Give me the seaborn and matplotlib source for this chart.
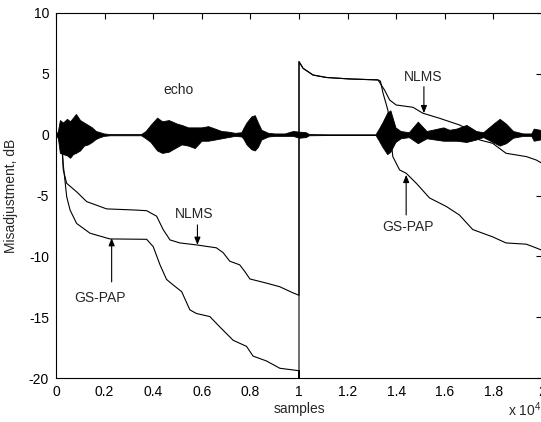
import seaborn as sns
import matplotlib.pyplot as plt
import pandas as pd
import numpy as np
from matplotlib.ticker import FuncFormatter

# x in units of 10^4 samples, misadjustment in dB
nlms_x = [0.0, 0.023, 0.030, 0.044, 0.085, 0.126, 0.208, 0.332, 0.373, 0.414, 0.441,
          0.469, 0.510, 0.578, 0.660, 0.688, 0.715, 0.756, 0.777, 0.798, 0.866,
          0.921, 0.975, 1.0,
          1.0, 1.017, 1.058, 1.113, 1.208, 1.325, 1.352, 1.373, 1.400, 1.469, 1.510,
          1.578, 1.660, 1.688, 1.743, 1.797, 1.852, 1.935, 1.976, 2.0]
nlms_y = [0.0, -0.4, -2.9, -4.0, -4.7, -5.5, -6.1, -6.2, -6.25, -6.7, -7.8,
          -8.65, -8.9, -9.06, -9.3, -9.7, -10.4, -10.7, -11.25, -11.86, -12.2,
          -12.5, -13.0, -13.2,
          6.0, 5.45, 4.9, 4.7, 4.58, 4.5, 3.67, 2.85, 2.44, 2.25, 1.76,
          1.35, 0.8, 0.53, -0.43, -0.71, -1.53, -1.8, -2.08, -2.35]

gspap_x = [0.0, 0.023, 0.030, 0.044, 0.058, 0.085, 0.140, 0.222, 0.373, 0.400, 0.428,
           0.455, 0.482, 0.517, 0.551, 0.578, 0.633, 0.674, 0.729, 0.784, 0.811,
           0.866, 0.921, 1.0, 1.0,
           1.0, 1.017, 1.058, 1.113, 1.208, 1.325, 1.335, 1.346, 1.366, 1.386, 1.414,
           1.441, 1.483, 1.537, 1.606, 1.660, 1.715, 1.797, 1.852, 1.935, 1.962, 2.0]
gspap_y = [0.0, -0.5, -2.5, -5.1, -6.2, -7.3, -8.1, -8.57, -8.6, -9.2, -10.7,
           -11.9, -12.35, -12.9, -14.4, -14.7, -14.95, -15.8, -16.9, -17.4, -18.2,
           -18.6, -19.2, -19.4, -20.0,
           6.0, 5.45, 4.9, 4.7, 4.58, 4.5, 4.4, 3.4, 2.0, -1.8, -2.9,
           -3.17, -4.0, -5.2, -5.9, -6.6, -7.8, -8.4, -8.9, -9.0, -9.2, -9.5]

# echo signal envelope (upper / lower)
echo_x = [0.0, 0.008, 0.016, 0.029, 0.045, 0.058, 0.070, 0.082, 0.099, 0.115, 0.132,
          0.148, 0.164, 0.181, 0.197, 0.222, 0.350, 0.369, 0.389, 0.416, 0.437,
          0.464, 0.499, 0.517, 0.544, 0.571, 0.599, 0.626, 0.654, 0.681, 0.708,
          0.736, 0.763, 0.770, 0.784, 0.804, 0.818, 0.831, 0.845, 0.873, 0.900,
          0.941, 0.975, 1.000, 1.028, 1.041, 1.122, 1.315, 1.329, 1.343, 1.363,
          1.376, 1.397, 1.418, 1.452, 1.489, 1.525, 1.594, 1.619, 1.648, 1.689,
          1.729, 1.758, 1.806, 1.826, 1.852, 1.881, 1.922, 1.956, 1.966, 1.991, 2.0]
echo_up = [0.0, 0.3, 1.2, 1.0, 1.3, 1.1, 1.4, 1.7, 1.2, 1.0, 0.8,
           0.6, 0.3, 0.2, 0.1, 0.05, 0.05, 0.3, 0.8, 1.4, 1.1,
           1.2, 0.9, 0.8, 0.6, 0.6, 0.6, 0.7, 0.5, 0.3, 0.25,
           0.15, 0.2, 0.5, 1.0, 1.5, 1.6, 1.0, 0.4, 0.15, 0.1,
           0.1, 0.3, 0.25, 0.2, 0.05, 0.03, 0.03, 0.5, 1.0, 1.8,
           2.0, 0.6, 0.3, 0.2, 1.07, 0.3, 0.6, 0.4, 0.5, 0.8,
           0.3, 0.2, 1.0, 1.3, 0.9, 0.3, 0.1, 0.1, 0.5, 0.4, 0.4]
echo_low = [0.0, -0.3, -1.5, -1.6, -1.7, -1.9, -1.6, -1.5, -1.3, -0.9, -0.8,
            -0.6, -0.35, -0.2, -0.1, -0.05, -0.05, -0.3, -0.6, -1.3, -1.5,
            -1.4, -1.0, -0.8, -0.9, -1.1, -0.5, -0.5, -0.4, -0.3, -0.2,
            -0.1, -0.15, -0.3, -0.8, -1.2, -1.3, -1.0, -0.4, -0.15, -0.1,
            -0.1, -0.1, -0.25, -0.2, -0.05, -0.03, -0.03, -0.5, -1.0, -1.6,
            -1.4, -0.6, -0.3, -0.2, -0.7, -0.3, -0.5, -0.5, -0.5, -0.6,
            -0.4, -0.2, -0.7, -0.9, -0.7, -0.25, -0.1, -0.1, -0.5, -0.4, -0.4]

df = pd.concat([
    pd.DataFrame({"samples": nlms_x, "mis": nlms_y, "method": "NLMS"}),
    pd.DataFrame({"samples": gspap_x, "mis": gspap_y, "method": "GS-PAP"}),
], ignore_index=True)

sns.set_style("white")
plt.rcParams['font.family'] = ['Liberation Sans', 'DejaVu Sans']
plt.rcParams['font.size'] = 10
plt.rcParams['axes.unicode_minus'] = False
plt.rcParams['mathtext.fontset'] = 'custom'
plt.rcParams['mathtext.rm'] = 'Liberation Sans'

fig = plt.figure(figsize=(5.41, 4.22), dpi=100)
ax = fig.add_axes([56 / 541, 44 / 422, 486 / 541, 365 / 422])

ax.fill_between(echo_x, echo_low, echo_up, color="black", lw=0.6, zorder=2)

sns.lineplot(data=df, x="samples", y="mis", hue="method",
             palette={"NLMS": "black", "GS-PAP": "black"},
             estimator=None, sort=False, linewidth=0.8, legend=False, ax=ax, zorder=3)

ax.set_xlim(0, 2)
ax.set_ylim(-20, 10)
ax.set_xticks(np.arange(0, 2.01, 0.2))
ax.set_yticks(np.arange(-20, 10.1, 5))
ax.xaxis.set_major_formatter(FuncFormatter(lambda v, p: "%g" % round(v, 1)))
ax.yaxis.set_major_formatter(FuncFormatter(lambda v, p: "%g" % v))
ax.tick_params(direction="in", length=4, width=0.8, top=True, right=True,
               labelsize=10, colors="black", pad=5)
for s in ax.spines.values():
    s.set_visible(True)
    s.set_color("black")
    s.set_linewidth(0.8)

ax.set_xlabel("samples", fontsize=10, labelpad=2)
ax.set_ylabel("Misadjustment, dB", fontsize=10, labelpad=8)
fig.text(508 / 541, 3 / 422, "x 10$^4$", fontsize=10, ha="left", va="bottom")

arrow = dict(arrowstyle="-|>,head_length=0.45,head_width=0.18", color="black",
             lw=0.8, shrinkA=0, shrinkB=0)
ax.text(0.505, 3.67, "echo", ha="center", va="center", fontsize=10)
ax.text(0.567, -6.53, "NLMS", ha="center", va="center", fontsize=10)
ax.annotate("", xy=(0.582, -9.06), xytext=(0.582, -7.42), arrowprops=arrow)
ax.text(0.181, -13.4, "GS-PAP", ha="center", va="center", fontsize=10)
ax.annotate("", xy=(0.229, -8.5), xytext=(0.229, -12.1), arrowprops=arrow)
ax.text(1.512, 4.7, "NLMS", ha="center", va="center", fontsize=10)
ax.annotate("", xy=(1.514, 1.76), xytext=(1.514, 3.94), arrowprops=arrow)
ax.text(1.447, -7.6, "GS-PAP", ha="center", va="center", fontsize=10)
ax.annotate("", xy=(1.441, -3.3), xytext=(1.441, -6.6), arrowprops=arrow)

fig.savefig("out.png", dpi=100)
